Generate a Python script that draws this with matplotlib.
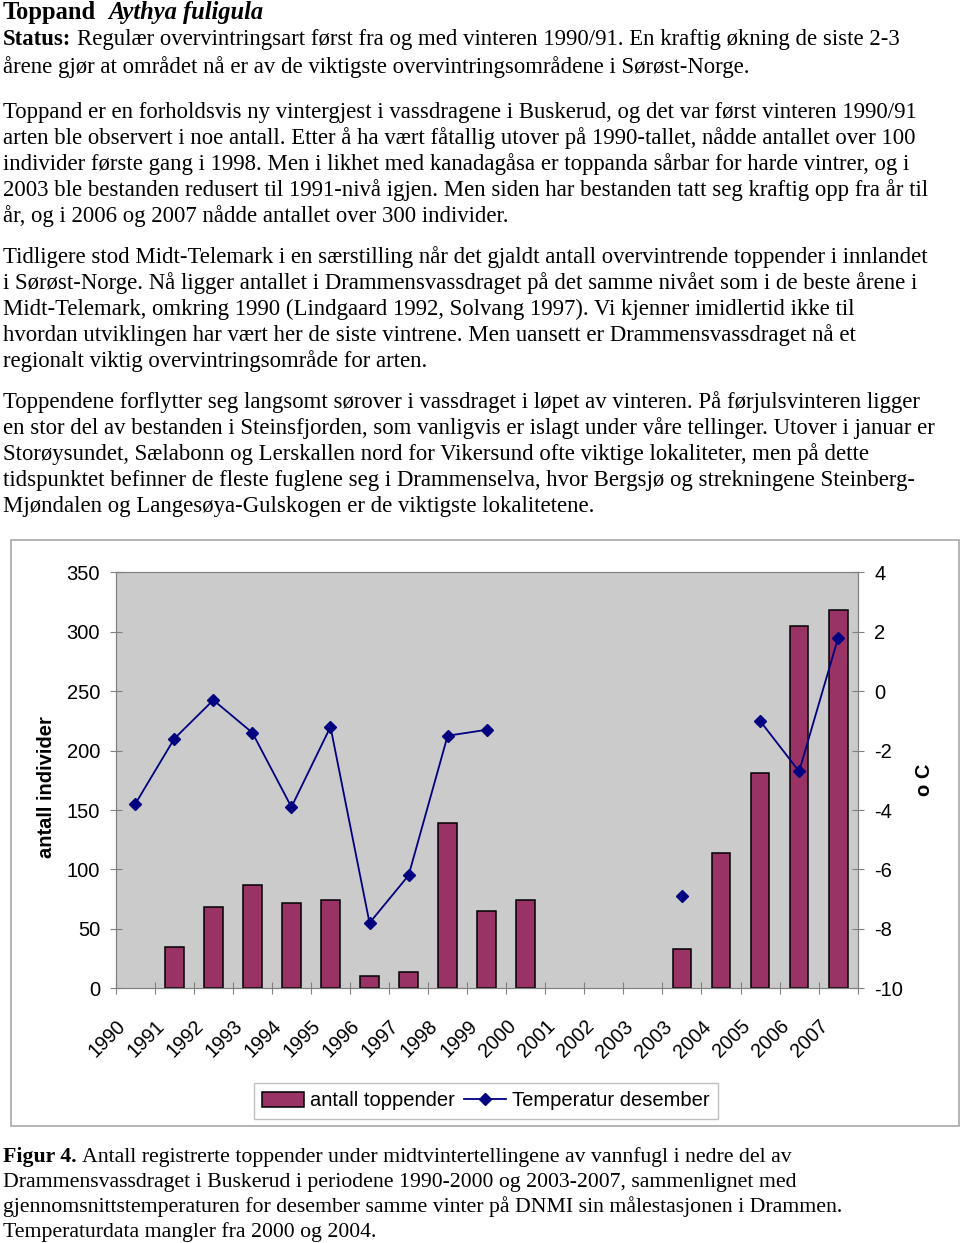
import numpy as np
import matplotlib
matplotlib.use("Agg")
import matplotlib.pyplot as plt
from matplotlib.patches import Rectangle
from matplotlib.transforms import ScaledTranslation

plt.rcParams["axes.unicode_minus"] = False

# chart data
years = ["1990", "1991", "1992", "1993", "1994", "1995", "1996", "1997", "1998",
         "1999", "2000", "2001", "2002", "2003", "2003", "2004", "2005", "2006", "2007"]
toppender = [np.nan, 35, 68, 87, 72, 74, 10, 14, 139, 65, 74,
             np.nan, np.nan, np.nan, 33, 114, 181, 305, 318]
temp_des = [-3.8, -1.6, -0.3, -1.4, -3.9, -1.2, -7.8, -6.2, -1.5, -1.3, np.nan,
            np.nan, np.nan, np.nan, -6.9, np.nan, -1.0, -2.7, 1.8]

W, H = 960, 1243
fig = plt.figure(figsize=(W / 100, H / 100), dpi=100)
renderer = fig.canvas.get_renderer()
serif = "Liberation Serif"
sans = "Liberation Sans"


def fx(x):
    return x / W


def fy(y):
    return 1 - y / H


def text_w(txt, size, weight="normal", style="normal"):
    t = fig.text(0, 0, txt, fontsize=size, family=serif, fontweight=weight, fontstyle=style)
    w = t.get_window_extent(renderer).width
    t.remove()
    return w


def put(x, y, parts, size):
    gap = text_w("a a", size) - text_w("aa", size)
    for i, (txt, weight, style) in enumerate(parts):
        if i > 0:
            x += gap * (2 if parts[i - 1][0] == "Toppand" else 1)
        t = fig.text(fx(x), fy(y), txt, fontsize=size, family=serif, fontweight=weight,
                     fontstyle=style, ha="left", va="baseline")
        x += t.get_window_extent(renderer).width


body = 10 * 914 / text_w("Toppand er en forholdsvis ny vintergjest i vassdragene i Buskerud, og det var først vinteren 1990/91", 10)
cap = 10 * 837 / text_w("gjennomsnittstemperaturen for desember samme vinter på DNMI sin målestasjonen i Drammen.", 10)
title_w = (text_w("Toppand", 10, "bold") + text_w("Aythya fuligula", 10, "bold", "italic")
           + 2 * (text_w("a a", 10) - text_w("aa", 10)))
title = 10 * 262 / title_w

N = ("normal", "normal")
put(3, 19, [("Toppand", "bold", "normal"), ("Aythya fuligula", "bold", "italic")], title)
put(3, 45, [("Status:", "bold", "normal"),
            ("Regulær overvintringsart først fra og med vinteren 1990/91. En kraftig økning de siste 2-3",) + N], body)

paragraphs = [
    (73, ["årene gjør at området nå er av de viktigste overvintringsområdene i Sørøst-Norge."]),
    (118, ["Toppand er en forholdsvis ny vintergjest i vassdragene i Buskerud, og det var først vinteren 1990/91",
           "arten ble observert i noe antall. Etter å ha vært fåtallig utover på 1990-tallet, nådde antallet over 100",
           "individer første gang i 1998. Men i likhet med kanadagåsa er toppanda sårbar for harde vintrer, og i",
           "2003 ble bestanden redusert til 1991-nivå igjen. Men siden har bestanden tatt seg kraftig opp fra år til",
           "år, og i 2006 og 2007 nådde antallet over 300 individer."]),
    (263, ["Tidligere stod Midt-Telemark i en særstilling når det gjaldt antall overvintrende toppender i innlandet",
           "i Sørøst-Norge. Nå ligger antallet i Drammensvassdraget på det samme nivået som i de beste årene i",
           "Midt-Telemark, omkring 1990 (Lindgaard 1992, Solvang 1997). Vi kjenner imidlertid ikke til",
           "hvordan utviklingen har vært her de siste vintrene. Men uansett er Drammensvassdraget nå et",
           "regionalt viktig overvintringsområde for arten."]),
    (408, ["Toppendene forflytter seg langsomt sørover i vassdraget i løpet av vinteren. På førjulsvinteren ligger",
           "en stor del av bestanden i Steinsfjorden, som vanligvis er islagt under våre tellinger. Utover i januar er",
           "Storøysundet, Sælabonn og Lerskallen nord for Vikersund ofte viktige lokaliteter, men på dette",
           "tidspunktet befinner de fleste fuglene seg i Drammenselva, hvor Bergsjø og strekningene Steinberg-",
           "Mjøndalen og Langesøya-Gulskogen er de viktigste lokalitetene."]),
]
for y0, lines in paragraphs:
    for k, line in enumerate(lines):
        put(3, y0 + 26 * k, [(line,) + N], body)

put(3, 1162, [("Figur 4.", "bold", "normal"),
              ("Antall registrerte toppender under midtvintertellingene av vannfugl i nedre del av",) + N], cap)
caption = ["Drammensvassdraget i Buskerud i periodene 1990-2000 og 2003-2007, sammenlignet med",
           "gjennomsnittstemperaturen for desember samme vinter på DNMI sin målestasjonen i Drammen.",
           "Temperaturdata mangler fra 2000 og 2004."]
for k, line in enumerate(caption):
    put(3, 1187 + 25 * k, [(line,) + N], cap)

# chart frame
fig.add_artist(Rectangle((fx(11), fy(1126)), (959 - 11) / W, (1126 - 540) / H,
                         transform=fig.transFigure, fill=False, edgecolor="#a8a8a8", lw=1.2))

fs = 14.5
ax = fig.add_axes([fx(115.7), fy(988.3), (857.7 - 115.7) / W, 416 / H])
ax.set_facecolor("#cbcbcb")
x = np.arange(len(years)) + 0.5
bars = ax.bar(x, toppender, width=0.48, color="#993366", edgecolor="black", linewidth=1.1,
              label="antall toppender", zorder=2)
ax.set_xlim(0, len(years))
ax.set_ylim(0, 350)
ax.set_yticks(range(0, 351, 50))
ax.set_xticks(np.arange(len(years) + 1))
ax.set_xticklabels([])
ax.set_xticks(x, labels=years, minor=True, rotation=45, ha="right", va="top")
ax.tick_params(axis="x", which="major", direction="inout", length=9, color="#808080")
ax.tick_params(axis="x", which="minor", length=0, pad=20.5, labelsize=fs - 0.3)
ax.tick_params(axis="y", direction="inout", length=9, color="#808080", pad=6.8, labelsize=fs)
for lab in ax.get_xticklabels(minor=True):
    lab.set_fontfamily(sans)
    lab.set_transform(lab.get_transform() + ScaledTranslation(-0.06, 0, fig.dpi_scale_trans))
for lab in ax.get_yticklabels():
    lab.set_fontfamily(sans)
for s in ax.spines.values():
    s.set_color("#808080")
ax.set_ylabel("antall individer", fontsize=fs, fontweight="bold", family=sans)
ax.yaxis.set_label_coords(-0.081, 0.484)

ax2 = ax.twinx()
line, = ax2.plot(x, temp_des, color="#000080", marker="D", markersize=6, lw=1.3,
                 label="Temperatur desember")
ax2.set_ylim(-10, 4)
ax2.set_yticks(range(-10, 5, 2))
ax2.tick_params(axis="y", direction="inout", length=9, color="#808080", pad=7.3, labelsize=fs)
for lab in ax2.get_yticklabels():
    lab.set_fontfamily(sans)
for s in ax2.spines.values():
    s.set_color("#808080")
ax2.set_ylabel("o C", fontsize=fs, fontweight="bold", family=sans)
ax2.yaxis.set_label_coords(1.0772, 0.5)

leg = fig.legend([bars, line], ["antall toppender", "Temperatur desember"], loc="center",
                 bbox_to_anchor=(fx(486), fy(1101)), ncol=2, fancybox=False, frameon=True,
                 edgecolor="#b0b0b0", handlelength=2.1, handletextpad=0.3, columnspacing=0.45,
                 borderpad=0.4, prop={"family": sans, "size": fs})
leg.get_frame().set_linewidth(1.0)

fig.savefig("out.png", dpi=100)
